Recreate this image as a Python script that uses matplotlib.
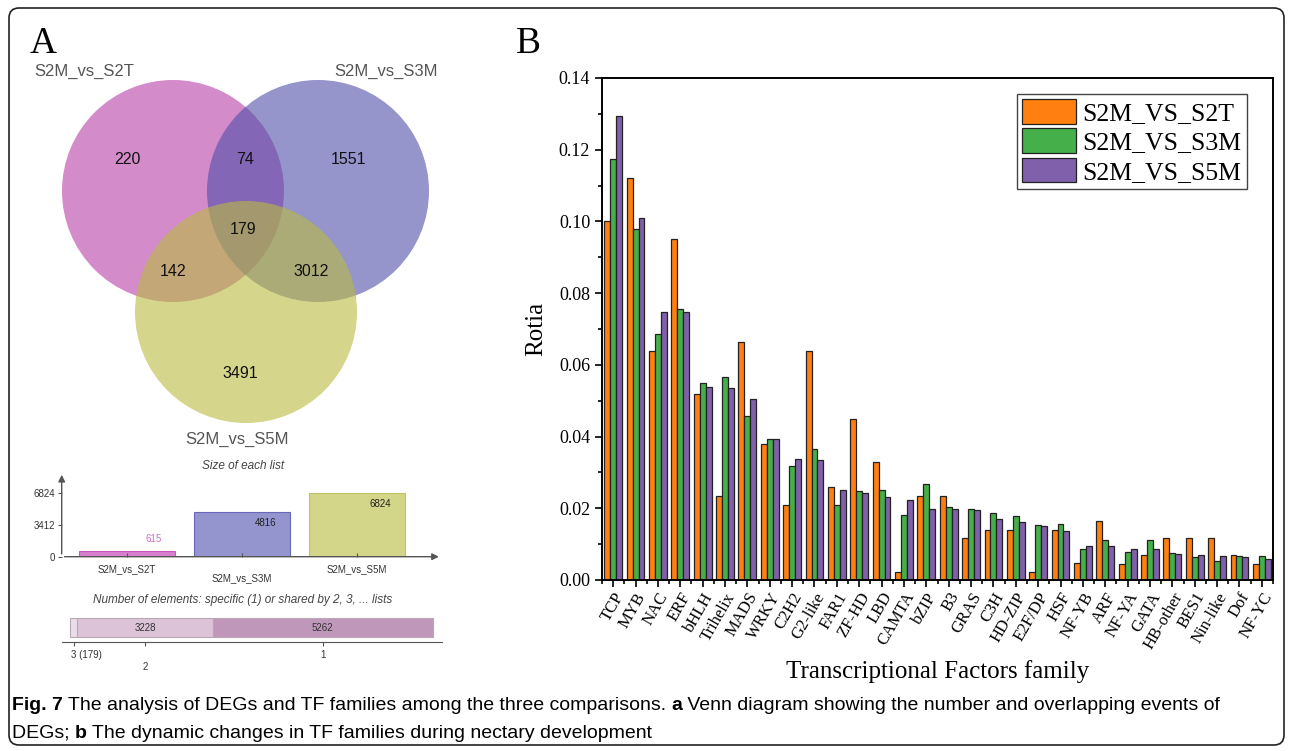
import numpy as np
import matplotlib.pyplot as plt
from matplotlib.patches import Circle, FancyBboxPatch
from matplotlib.ticker import MultipleLocator

# ---- panel A data ----
set_names = ["S2M_vs_S2T", "S2M_vs_S3M", "S2M_vs_S5M"]
# regions: only 1, 1&2, only 2, all, 1&3, 2&3, only 3
region_counts = [220, 74, 1551, 179, 142, 3012, 3491]
list_sizes = [615, 4816, 6824]
shared_labels = ["3 (179)", "2", "1"]
shared_counts = [179, 3228, 5262]

# ---- panel B data ----
families = ["TCP", "MYB", "NAC", "ERF", "bHLH", "Trihelix", "MADS", "WRKY", "C2H2", "G2-like",
            "FAR1", "ZF-HD", "LBD", "CAMTA", "bZIP", "B3", "GRAS", "C3H", "HD-ZIP", "E2F/DP",
            "HSF", "NF-YB", "ARF", "NF-YA", "GATA", "HB-other", "BES1", "Nin-like", "Dof", "NF-YC"]
s2t = [0.100, 0.112, 0.064, 0.095, 0.052, 0.0235, 0.0665, 0.038, 0.021, 0.064,
       0.026, 0.045, 0.033, 0.0022, 0.0234, 0.0234, 0.0117, 0.014, 0.014, 0.0022,
       0.014, 0.0047, 0.0165, 0.0045, 0.0069, 0.0117, 0.0117, 0.0117, 0.0069, 0.0045]
s3m = [0.1173, 0.098, 0.0685, 0.0757, 0.0549, 0.0565, 0.0456, 0.0394, 0.0319, 0.0365,
       0.021, 0.0248, 0.025, 0.018, 0.0268, 0.0204, 0.0198, 0.0187, 0.0178, 0.0153,
       0.0156, 0.0086, 0.0112, 0.0078, 0.0112, 0.0075, 0.0064, 0.0053, 0.0068, 0.0068]
s5m = [0.1294, 0.101, 0.0747, 0.0747, 0.0538, 0.0535, 0.0504, 0.0394, 0.0337, 0.0334,
       0.025, 0.0242, 0.0232, 0.0223, 0.0198, 0.0198, 0.0195, 0.017, 0.0163, 0.015,
       0.0137, 0.0095, 0.0095, 0.0086, 0.0086, 0.0072, 0.0069, 0.0066, 0.0064, 0.0059]
series_names = ["S2M_VS_S2T", "S2M_VS_S3M", "S2M_VS_S5M"]

W, H = 1292, 751
fig = plt.figure(figsize=(W / 100, H / 100), dpi=100)

# background axes in pixel coords
bg = fig.add_axes([0, 0, 1, 1])
bg.set_xlim(0, W)
bg.set_ylim(H, 0)
bg.axis("off")
bg.add_patch(FancyBboxPatch((9, 8), 1275, 737, boxstyle="round,pad=0,rounding_size=10",
                            fc="none", ec="#222222", lw=1.2))

serif = "Liberation Serif"
sans = "Liberation Sans"
bg.text(30, 53, "A", fontsize=27, family=serif, va="baseline")
bg.text(516, 53, "B", fontsize=27, family=serif, va="baseline")

# ---- Venn ----
venn_colors = ["#b73ea7", "#4e4eaa", "#b9bb3e"]
centers = [(173, 191), (318, 191), (246, 312)]
for (cx, cy), c in zip(centers, venn_colors):
    bg.add_patch(Circle((cx, cy), 111, fc=c, ec="none", alpha=0.6))
for name, pos in zip(set_names, [(84, 71), (386, 71), (237, 439)]):
    bg.text(pos[0], pos[1], name, fontsize=12, family=sans, color="#555555", ha="center", va="center")
region_pos = [(127, 160), (245, 160), (348, 160), (243, 229), (173, 271), (311, 271), (240, 374)]
for n, (x, y) in zip(region_counts, region_pos):
    bg.text(x, y, str(n), fontsize=11.5, family=sans, color="#111111", ha="center", va="center")

# ---- size of each list ----
bg.text(243, 466, "Size of each list", fontsize=8.5, family=sans, style="italic",
        color="#444444", ha="center", va="center")
ax1 = fig.add_axes([61.7 / W, (H - 556.7) / H, 380 / W, 84.7 / H])
bar_colors = ["#cf5fc2", "#7a7ac4", "#c9cb6a"]
edge_colors = ["#c040b0", "#5050b0", "#b5b84a"]
ax1.bar(range(3), list_sizes, width=0.84, color=bar_colors, edgecolor=edge_colors, lw=0.8, alpha=0.8)
ax1.set_xlim(-0.568, 2.736)
ax1.set_ylim(0, 9031)
for s in ax1.spines.values():
    s.set_visible(False)
ax1.annotate("", xy=(1, 0), xytext=(0, 0), xycoords="axes fraction",
             arrowprops=dict(arrowstyle="-|>", color="#555555", lw=1, mutation_scale=10))
ax1.annotate("", xy=(0, 1), xytext=(0, 0), xycoords="axes fraction",
             arrowprops=dict(arrowstyle="-|>", color="#555555", lw=1, mutation_scale=10))
ax1.set_yticks([0, list_sizes[2] / 2, list_sizes[2]])
ax1.set_yticklabels(["0", "3412", "6824"], fontsize=7, family=sans, color="#333333")
ax1.tick_params(axis="y", length=3, color="#555555", pad=2)
ax1.set_xticks(range(3))
ax1.set_xticklabels([])
ax1.tick_params(axis="x", length=3, color="#555555", direction="in")
lab_colors = ["#d070c4", "#222222", "#222222"]
for i, (v, c) in enumerate(zip(list_sizes, lab_colors)):
    ty = v - 1170 if v > 1500 else v + 1270
    ax1.text(i + 0.3, ty, str(v), fontsize=7, family=sans, color=c, ha="right", va="center")
    ax1.text(i, -0.09 if i != 1 else -0.19, set_names[i], transform=ax1.get_xaxis_transform(),
             fontsize=7, family=sans, color="#333333", ha="center", va="top")

# ---- shared elements ----
bg.text(243, 600, "Number of elements: specific (1) or shared by 2, 3, ... lists", fontsize=8.5,
        family=sans, style="italic", color="#444444", ha="center", va="center")
ax2 = fig.add_axes([61.7 / W, (H - 641.7) / H, 380.3 / W, 26.7 / H])
lefts = np.concatenate([[0], np.cumsum(shared_counts)[:-1]])
seg_colors = ["#eadde8", "#dcc3d8", "#bf97ba"]
ax2.barh(0.53, shared_counts, left=lefts, height=0.71, color=seg_colors, edgecolor="#b8a8b6", lw=0.8)
ax2.set_xlim(-198, 8884)
ax2.set_ylim(0, 1)
for k in ["top", "right", "left"]:
    ax2.spines[k].set_visible(False)
ax2.spines["bottom"].set_color("#555555")
ax2.set_yticks([])
mids = lefts + np.array(shared_counts) / 2
ax2.set_xticks(mids)
ax2.set_xticklabels([])
ax2.tick_params(axis="x", length=3, color="#555555")
for i, (m, n, lab) in enumerate(zip(mids, shared_counts, shared_labels)):
    if i > 0:
        ax2.text(m, 0.53, str(n), fontsize=7, family=sans, color="#333333", ha="center", va="center")
    ax2.text(m if i > 0 else m - 60, -0.3 if i != 1 else -0.75, lab, transform=ax2.get_xaxis_transform(),
             fontsize=7, family=sans, color="#333333", ha="center" if i > 0 else "left", va="top")

# ---- panel B ----
ax = fig.add_axes([602 / W, (H - 580) / H, 671 / W, 502 / H])
x = np.arange(len(families))
bw = 0.265
cols = ["#ff8010", "#45b04a", "#8060aa"]
for k, (vals, c, lab) in enumerate(zip([s2t, s3m, s5m], cols, series_names)):
    ax.bar(x + (k - 1) * bw, vals, width=bw, color=c, edgecolor="#222222", lw=0.9, label=lab)
ax.set_xlim(-0.5, 29.5)
ax.set_ylim(0, 0.14)
ax.set_xticks(x)
ax.set_xticklabels(families, rotation=60, ha="right", rotation_mode="anchor",
                   fontsize=12, family=serif)
ax.xaxis.set_minor_locator(MultipleLocator(0.5))
ax.set_yticks(np.arange(0, 0.141, 0.02))
ax.set_yticklabels(["%.2f" % v for v in np.arange(0, 0.141, 0.02)], fontsize=13, family=serif)
ax.yaxis.set_minor_locator(MultipleLocator(0.01))
ax.tick_params(which="major", length=5, width=1.2, direction="out")
ax.tick_params(which="minor", length=3, width=1.2, direction="out")
ax.tick_params(axis="x", pad=2)
for s in ax.spines.values():
    s.set_linewidth(1.4)
ax.set_ylabel("Rotia", fontsize=18, family=serif, labelpad=8)
ax.set_xlabel("Transcriptional Factors family", fontsize=18, family=serif, labelpad=6)
leg = ax.legend(loc="upper right", bbox_to_anchor=(0.961, 0.968), borderaxespad=0,
                prop=dict(family=serif, size=18.5), fancybox=False, edgecolor="#444444",
                handlelength=2.1, handleheight=1.1, handletextpad=0.27, labelspacing=0.12,
                borderpad=0.2, framealpha=1)
leg.get_frame().set_linewidth(1)

# ---- caption ----
cap_font = "Liberation Sans"
cs = 14
pieces1 = [("Fig. 7", "bold"), (" The analysis of DEGs and TF families among the three comparisons. ", "normal"),
           ("a", "bold"), (" Venn diagram showing the number and overlapping events of", "normal")]
pieces2 = [("DEGs; ", "normal"), ("b", "bold"), (" The dynamic changes in TF families during nectary development", "normal")]
for pieces, y in [(pieces1, 714), (pieces2, 742)]:
    prev = bg.text(12, y, pieces[0][0], fontsize=cs, family=cap_font, weight=pieces[0][1], va="bottom")
    for txt, wt in pieces[1:]:
        prev = bg.annotate(txt, xy=(1, 0), xycoords=prev, va="bottom", ha="left",
                           fontsize=cs, family=cap_font, weight=wt)

fig.savefig("out.png", dpi=100)
